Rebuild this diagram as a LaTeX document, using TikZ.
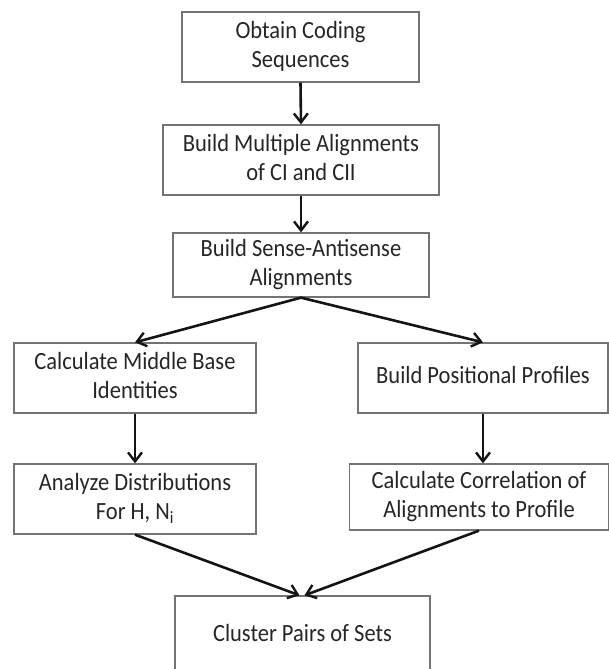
\documentclass[tikz,border=0pt]{standalone}
\usepackage{fontspec}
\usepackage{graphicx}
\setmainfont{Carlito}
\usetikzlibrary{arrows.meta}

% box labels are set slightly taller than wide
\newcommand{\steplabel}[1]{\scalebox{1}[1.1]{\begin{tabular}{@{}c@{}}#1\end{tabular}}}

\begin{document}
\begin{tikzpicture}[x=1pt,y=-1pt,
  box/.style={draw=black!55, line width=1.3pt, fill=white, align=center,
    inner sep=0pt, text=black!85,
    font=\fontsize{22.5}{26}\selectfont},
  arr/.style={draw=black!92, line width=2.6pt,
    -{Straight Barb[length=9pt,width=14pt,line width=2.4pt]}}]
  \useasboundingbox (0,0) rectangle (609,669);

  % process steps
  \node[box, minimum width=237pt, minimum height=70pt] (obtain) at (300.5,47)
    {\steplabel{Obtain Coding\\Sequences}};
  \node[box, minimum width=276pt, minimum height=70pt] (multi) at (301,160)
    {\steplabel{Build Multiple Alignments\\of CI and CII}};
  \node[box, minimum width=256pt, minimum height=64pt] (sense) at (301,265)
    {\steplabel{Build Sense-Antisense\\Alignments}};
  \node[box, minimum width=242pt, minimum height=70pt] (middle) at (135,378)
    {\steplabel{Calculate Middle Base\\Identities}};
  \node[box, minimum width=250pt, minimum height=70pt] (posprof) at (483,378)
    {\steplabel{Build Positional Profiles}};
  \node[box, minimum width=242pt, minimum height=70pt] (distr) at (135,499)
    {\steplabel{Analyze Distributions\\For H, N\textsubscript{i}}};
  \node[box, minimum width=259pt, minimum height=66pt] (corr) at (479,497)
    {\steplabel{Calculate Correlation of\\Alignments to Profile}};
  \node[box, minimum width=255pt, minimum height=80pt] (cluster) at (302.5,636)
    {\steplabel{Cluster Pairs of Sets}};

  % flow
  \draw[arr] (obtain.south) -- (multi.north);
  \draw[arr] (multi.south) -- (sense.north);
  \draw[arr] (sense.south) -- (middle.north);
  \draw[arr] (sense.south) -- (posprof.north);
  \draw[arr] (middle.south) -- (distr.north);
  \draw[arr] (posprof.south) -- (corr.north -| posprof.south);
  \draw[arr] (distr.south) -- ([xshift=-3pt]cluster.north);
  \draw[arr] (corr.south) -- ([xshift=2pt]cluster.north);
\end{tikzpicture}
\end{document}
